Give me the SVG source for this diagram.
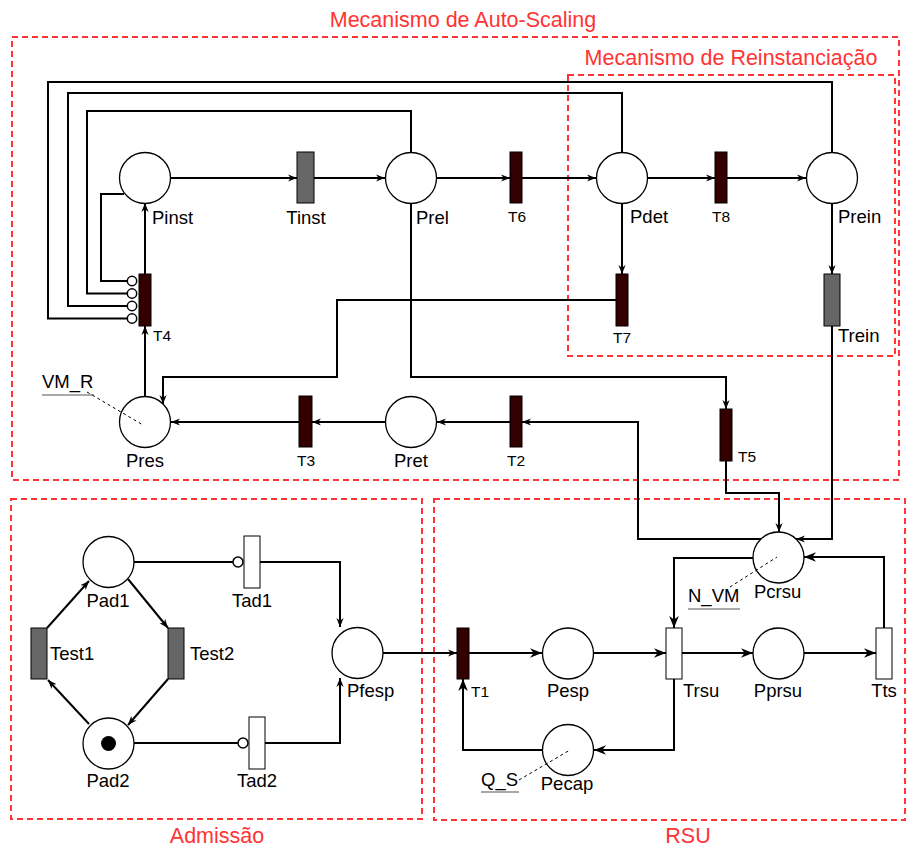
<svg xmlns="http://www.w3.org/2000/svg" width="907" height="848" viewBox="0 0 907 848">
<defs>
<style>
.region{fill:none;stroke:#FF3333;stroke-width:2;stroke-dasharray:6 4}
.rtitle{font-family:"Liberation Sans",Arial,sans-serif;font-size:21.5px;fill:#FF3333;text-anchor:middle}
.pl{fill:#fff;stroke:#000;stroke-width:1.3}
.td{fill:#330000;stroke:#000;stroke-width:1}
.tg{fill:#666;stroke:#000;stroke-width:1}
.tw{fill:#fff;stroke:#000;stroke-width:1}
.lb{font-family:"Liberation Sans",Arial,sans-serif;font-size:18.5px;fill:#000}
.ls{font-family:"Liberation Sans",Arial,sans-serif;font-size:15.5px;fill:#000}
.m{text-anchor:middle}
.e{fill:none;stroke:#000;stroke-width:2}
.ea{fill:none;stroke:#000;stroke-width:2;marker-end:url(#a)}
.eb{fill:none;stroke:#000;stroke-width:2;marker-end:url(#b)}
.inh{fill:#fff;stroke:#000;stroke-width:1.5}
.dash{fill:none;stroke:#000;stroke-width:1;stroke-dasharray:3 3}
.ul{stroke:#555;stroke-width:1.2}
</style>
<marker id="a" viewBox="0 0 10 10" refX="10" refY="5" markerWidth="9" markerHeight="9" markerUnits="userSpaceOnUse" orient="auto"><path d="M0,1 L10,5 L0,9 L3,5 Z" fill="#000"/></marker>
<marker id="b" viewBox="0 0 10 10" refX="10" refY="5" markerWidth="12" markerHeight="12" markerUnits="userSpaceOnUse" orient="auto"><path d="M0,1 L10,5 L0,9 L3,5 Z" fill="#000"/></marker>
</defs>
<rect width="907" height="848" fill="#fff"/>

<g id="regions">
<rect class="region" x="12" y="37" width="887" height="443"/>
<text class="rtitle" x="463" y="27">Mecanismo de Auto-Scaling</text>
<rect class="region" x="568" y="75" width="327" height="281"/>
<text class="rtitle" x="731" y="65">Mecanismo de Reinstanciação</text>
<rect class="region" x="11" y="499" width="411" height="320"/>
<text class="rtitle" x="217" y="843">Admissão</text>
<rect class="region" x="434" y="499" width="471" height="321"/>
<text class="rtitle" x="688" y="843">RSU</text>
</g>

<g id="connectors">
<path class="ea" d="M171 178 H297"/>
<path class="ea" d="M314 178 H385"/>
<path class="ea" d="M437 178 H510"/>
<path class="ea" d="M522 178 H596"/>
<path class="ea" d="M647 178 H715"/>
<path class="ea" d="M727 178 H806"/>
<path class="ea" d="M622 203 V274"/>
<path class="ea" d="M832 203 V274"/>
<path class="ea" d="M145 274 V203"/>
<path class="ea" d="M145 396 V326"/>
<path class="e" d="M124 194 H101 V281 H127"/>
<path class="e" d="M411 152 V111 H87 V293.5 H127"/>
<path class="e" d="M622 152 V93 H68 V306 H127"/>
<path class="e" d="M832 152 V82 H48 V318.5 H127"/>
<circle class="inh" cx="132" cy="281" r="4.7"/>
<circle class="inh" cx="132" cy="293.5" r="4.7"/>
<circle class="inh" cx="132" cy="306" r="4.7"/>
<circle class="inh" cx="132" cy="318.5" r="4.7"/>
<path class="ea" d="M616 300 H337 V377 H163 V404"/>
<path class="ea" d="M299 422 H171"/>
<path class="ea" d="M385 422 H312"/>
<path class="ea" d="M510 422 H437"/>
<path class="ea" d="M761 539 H638 V422 H522"/>
<path class="ea" d="M411 203 V377 H726 V409"/>
<path class="ea" d="M726 461 V493 H779 V532"/>
<path class="ea" d="M832 326 V539 H796"/>
<path class="ea" d="M383 653 H457"/>
<path class="eb" d="M469 653 H542"/>
<path class="eb" d="M594 653 H666"/>
<path class="eb" d="M682 653 H753"/>
<path class="eb" d="M804 653 H876"/>
<path class="eb" d="M884 628 V557 H804"/>
<path class="eb" d="M753 558 H674 V628"/>
<path class="eb" d="M674 679 V750 H594"/>
<path class="eb" d="M542 750 H463 V679"/>
<path class="e" d="M134 562 H233"/>
<circle class="inh" cx="238" cy="562" r="5"/>
<path class="e" d="M134 743 H238"/>
<circle class="inh" cx="243" cy="743" r="5"/>
<path class="ea" d="M260 562 H340 V627"/>
<path class="ea" d="M265 743 H340 V678"/>
<path class="ea" d="M128 579 L168 628"/>
<path class="ea" d="M168 679 L128 725"/>
<path class="ea" d="M89 724 L48 680"/>
<path class="ea" d="M47 628 L89 581"/>
</g>

<g id="Pinst"><circle class="pl" cx="145" cy="178" r="25.5"/><text class="lb" x="152" y="224">Pinst</text></g>
<g id="Tinst"><rect class="tg" x="297" y="152" width="17" height="51"/><text class="lb m" x="306" y="224">Tinst</text></g>
<g id="Prel"><circle class="pl" cx="411" cy="178" r="25.5"/><text class="lb" x="416" y="224">Prel</text></g>
<g id="T6"><rect class="td" x="510" y="152" width="12" height="51"/><text class="ls m" x="517" y="222">T6</text></g>
<g id="Pdet"><circle class="pl" cx="622" cy="178" r="25.5"/><text class="lb" x="630" y="223">Pdet</text></g>
<g id="T8"><rect class="td" x="715" y="152" width="12" height="51"/><text class="ls m" x="721" y="222">T8</text></g>
<g id="Prein"><circle class="pl" cx="832" cy="178" r="25.5"/><text class="lb" x="838" y="223">Prein</text></g>
<g id="T7"><rect class="td" x="616" y="274" width="12" height="52"/><text class="ls m" x="622" y="343">T7</text></g>
<g id="Trein"><rect class="tg" x="824" y="274" width="16" height="52"/><text class="lb" x="838" y="342">Trein</text></g>
<g id="T4"><rect class="td" x="139" y="274" width="12" height="52"/><text class="ls" x="153" y="341">T4</text></g>
<g id="Pres"><circle class="pl" cx="145" cy="422" r="25.5"/><text class="lb m" x="145" y="467">Pres</text>
<text class="lb" x="42" y="388">VM_R</text><line class="ul" x1="42" y1="395" x2="94" y2="395"/>
<path class="dash" d="M87 392 L143 425"/></g>
<g id="T3"><rect class="td" x="299" y="396" width="13" height="51"/><text class="ls m" x="306" y="466">T3</text></g>
<g id="Pret"><circle class="pl" cx="411" cy="422" r="25.5"/><text class="lb m" x="411" y="467">Pret</text></g>
<g id="T2"><rect class="td" x="510" y="396" width="12" height="51"/><text class="ls m" x="516" y="466">T2</text></g>
<g id="T5"><rect class="td" x="720" y="409" width="12" height="52"/><text class="ls" x="738" y="462">T5</text></g>
<g id="Pcrsu"><circle class="pl" cx="778.5" cy="557.5" r="25.5"/><text class="lb" x="754" y="598">Pcrsu</text>
<text class="lb" x="688" y="602">N_VM</text><line class="ul" x1="688" y1="609" x2="740" y2="609"/>
<path class="dash" d="M730 587 L777 557"/></g>
<g id="T1"><rect class="td" x="457" y="628" width="12" height="51"/><text class="ls" x="471" y="697">T1</text></g>
<g id="Pesp"><circle class="pl" cx="568" cy="653.5" r="25.5"/><text class="lb m" x="568" y="697">Pesp</text></g>
<g id="Trsu"><rect class="tw" x="666" y="628" width="16" height="51"/><text class="lb" x="683" y="697">Trsu</text></g>
<g id="Pprsu"><circle class="pl" cx="778.5" cy="653.5" r="25.5"/><text class="lb m" x="778" y="697">Pprsu</text></g>
<g id="Tts"><rect class="tw" x="876" y="628" width="16" height="51"/><text class="lb m" x="884" y="697">Tts</text></g>
<g id="Pecap"><circle class="pl" cx="568" cy="750" r="25.5"/><text class="lb m" x="567" y="790">Pecap</text>
<text class="lb" x="481" y="786">Q_S</text><line class="ul" x1="481" y1="792" x2="519" y2="792"/>
<path class="dash" d="M519 780 L570 750"/></g>
<g id="Pfesp"><circle class="pl" cx="357.5" cy="653" r="25.5"/><text class="lb" x="347" y="697">Pfesp</text></g>
<g id="Pad1"><circle class="pl" cx="108.5" cy="562" r="25.5"/><text class="lb m" x="108" y="607">Pad1</text></g>
<g id="Pad2"><circle class="pl" cx="108.5" cy="743.5" r="25.5"/><circle cx="108.5" cy="743.5" r="7.5" fill="#000"/><text class="lb m" x="108" y="787">Pad2</text></g>
<g id="Test1"><rect class="tg" x="31" y="628" width="16" height="51"/><text class="lb" x="50" y="660">Test1</text></g>
<g id="Test2"><rect class="tg" x="168" y="628" width="16" height="51"/><text class="lb" x="190" y="660">Test2</text></g>
<g id="Tad1"><rect class="tw" x="244" y="536" width="16" height="52"/><text class="lb m" x="252" y="607">Tad1</text></g>
<g id="Tad2"><rect class="tw" x="249" y="717" width="16" height="52"/><text class="lb m" x="257" y="787">Tad2</text></g>
</svg>
